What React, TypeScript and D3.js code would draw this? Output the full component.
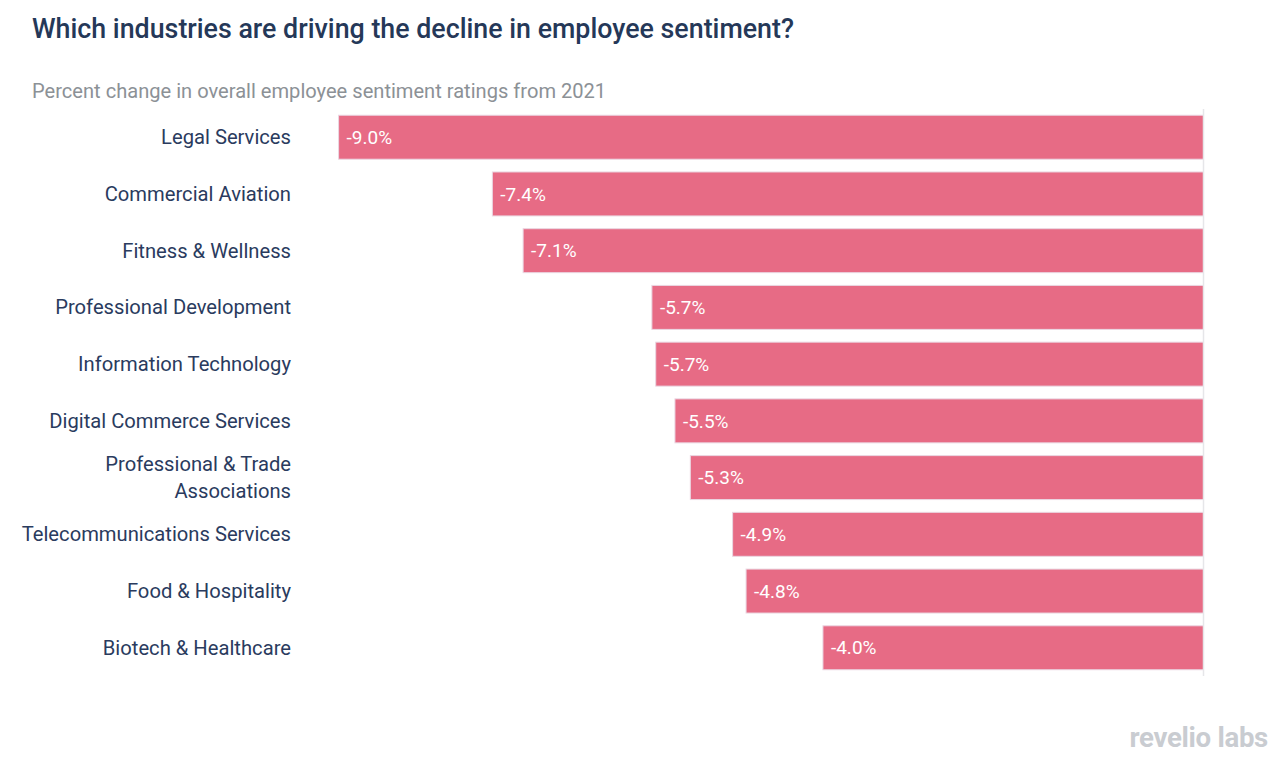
import React from "react";
import * as d3 from "d3";

const categories: string[][] = [
  ["Legal Services"],
  ["Commercial Aviation"],
  ["Fitness & Wellness"],
  ["Professional Development"],
  ["Information Technology"],
  ["Digital Commerce Services"],
  ["Professional & Trade", "Associations"],
  ["Telecommunications Services"],
  ["Food & Hospitality"],
  ["Biotech & Healthcare"],
];
const values: number[] = [-9.0, -7.4, -7.08, -5.74, -5.7, -5.5, -5.34, -4.9, -4.76, -3.96];

const W = 1282;
const H = 766;
const x0 = 1203.5;
const pxPerUnit = 96.1;

export default function App() {
  const x = d3.scaleLinear().domain([-9.0, 0]).range([x0 - 9.0 * pxPerUnit, x0]);
  const keys = categories.map((c) => c.join(" "));
  const y = d3
    .scaleBand<string>()
    .domain(keys)
    .range([109, 676])
    .paddingInner(0.225)
    .paddingOuter(0.11);
  const bw = y.bandwidth();
  const font = "Roboto, 'Noto Sans', sans-serif";

  return (
    <svg
      width={W}
      height={H}
      style={{ position: "absolute", left: 0, top: 0, background: "#fff" }}
      fontFamily={font}
    >
      <text x={32} y={38} fontSize={26.8} fontWeight={500} fill="#253858">
        Which industries are driving the decline in employee sentiment?
      </text>
      <text x={32} y={98} fontSize={20.1} fill="#8c9196">
        Percent change in overall employee sentiment ratings from 2021
      </text>
      {values.map((v, i) => {
        const key = keys[i];
        const yy = y(key)!;
        const xs = x(v);
        const lines = categories[i];
        const cy = yy + bw / 2;
        const lh = 27;
        return (
          <g key={key}>
            <rect
              x={xs}
              y={yy}
              width={x(0) - xs}
              height={bw}
              fill="#e76b85"
              stroke="#ead7e2"
              strokeWidth={1}
            />
            <text
              x={xs + 8}
              y={cy}
              dy="0.35em"
              fontSize={19}
              fill="#ffffff"
            >
              {v.toFixed(1) + "%"}
            </text>
            <text x={291} y={cy - ((lines.length - 1) * lh) / 2} fontSize={20.2} fill="#2a3b5e" textAnchor="end">
              {lines.map((l, j) => (
                <tspan key={j} x={291} dy={j === 0 ? "0.35em" : lh}>
                  {l}
                </tspan>
              ))}
            </text>
          </g>
        );
      })}
      <line x1={x(0)} x2={x(0)} y1={109} y2={676} stroke="#e6e6e9" strokeWidth={1.5} />
      <text
        x={1268}
        y={747}
        textAnchor="end"
        fontSize={27.6}
        fontWeight={700}
        fill="#c9ccd1"
        letterSpacing={-0.3}
      >
        revelio labs
      </text>
    </svg>
  );
}
